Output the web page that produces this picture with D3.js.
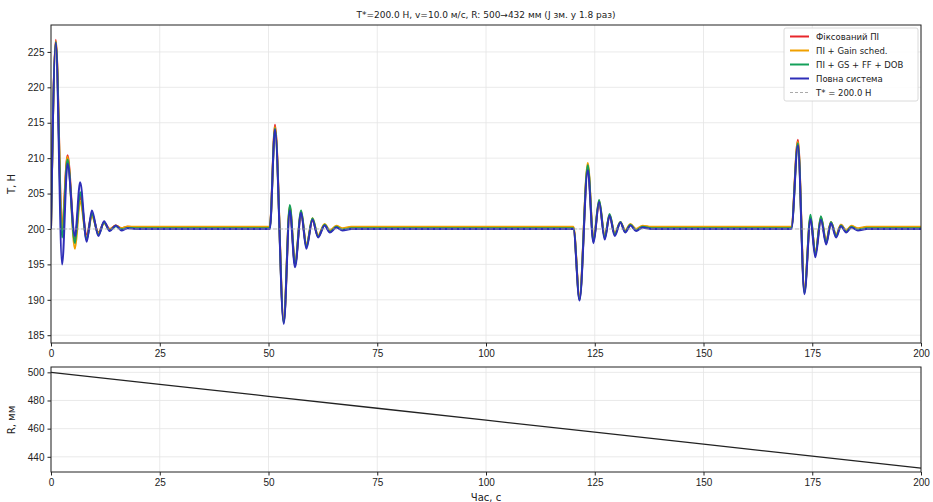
<!DOCTYPE html>
<html>
<head>
<meta charset="utf-8">
<script src="https://cdn.jsdelivr.net/npm/d3@7"></script>
<style>
  html, body { margin: 0; padding: 0; background: #fff; }
  svg { display: block; font-family: "DejaVu Sans", sans-serif; }
  .grid line { stroke: #e4e4e4; stroke-width: 0.8; }
  .axis path, .axis line { stroke: #222; }
  .axis text { fill: #222; font-size: 10px; }
</style>
</head>
<body>
<svg id="chart" width="933" height="502"></svg>
<script>
// Knot times (s) at peaks/troughs of the tension response
const timeKnots = [
  0, 1.1, 2.55, 3.8, 5.5, 6.7, 8.2, 9.4, 10.9, 12.2, 13.5, 14.9, 16.2, 17.6, 19.5,
  30, 45, 50.3,
  51.5, 53.5, 54.9, 56.1, 57.5, 58.7, 60.1, 61.4, 62.9, 64.1, 65.6, 67.0, 69.0,
  90, 110, 120.1,
  121.5, 123.4, 124.7, 126.0, 127.3, 128.4, 129.6, 130.9, 132.0, 133.2, 134.5, 136.0, 138.0,
  150, 165, 170.2,
  171.7, 173.2, 174.6, 175.7, 177.0, 178.2, 179.3, 180.5, 181.6, 182.8, 184.0, 185.5, 187.5,
  200
];

// Tension, N
const fixedPI = [
  200, 226.7, 200.3, 210.4, 198.6, 204.6, 199.2, 202.0, 199.5, 200.9, 200.0, 200.5, 200.1, 200.3, 200.25,
  200.25, 200.25, 200.25,
  214.7, 186.9, 203.0, 195.0, 202.2, 197.6, 201.2, 199.0, 200.6, 199.7, 200.4, 200.0, 200.25,
  200.25, 200.25, 200.25,
  190.2, 208.8, 198.4, 203.6, 198.9, 201.8, 199.3, 200.9, 199.7, 200.6, 199.9, 200.4, 200.25,
  200.25, 200.25, 200.25,
  212.6, 191.2, 201.6, 196.5, 201.5, 198.2, 200.9, 199.1, 200.6, 199.7, 200.4, 200.0, 200.25,
  200.25
];
const gainSched = [
  200, 226.5, 200.0, 210.2, 197.2, 203.9, 198.7, 201.8, 199.4, 200.8, 199.9, 200.5, 200.1, 200.35, 200.3,
  200.3, 200.3, 200.3,
  214.4, 187.2, 203.2, 195.2, 202.5, 197.7, 201.5, 199.1, 200.7, 199.8, 200.45, 200.1, 200.3,
  200.3, 200.3, 200.3,
  190.3, 209.3, 198.6, 204.0, 199.0, 202.0, 199.4, 201.0, 199.8, 200.7, 200.0, 200.45, 200.3,
  200.3, 200.3, 200.3,
  212.3, 191.4, 201.7, 196.6, 201.7, 198.3, 201.0, 199.2, 200.6, 199.8, 200.45, 200.1, 200.3,
  200.3
];
const gsFfDob = [
  200, 226.4, 198.8, 209.8, 198.0, 205.2, 198.5, 202.2, 199.2, 200.9, 199.8, 200.4, 199.95, 200.15, 200.1,
  200.1, 200.1, 200.1,
  214.2, 186.8, 203.4, 194.9, 202.6, 197.4, 201.5, 198.9, 200.6, 199.6, 200.3, 199.9, 200.1,
  200.1, 200.1, 200.1,
  190.0, 209.0, 198.2, 204.1, 198.7, 202.1, 199.2, 201.0, 199.6, 200.6, 199.8, 200.3, 200.1,
  200.1, 200.1, 200.1,
  212.1, 191.0, 202.0, 196.3, 201.8, 198.0, 201.0, 199.0, 200.5, 199.6, 200.3, 199.9, 200.1,
  200.1
];
const fullSystem = [
  200, 226.3, 195.0, 209.2, 199.0, 206.6, 198.2, 202.6, 199.0, 201.1, 199.7, 200.5, 199.8, 200.1, 200.0,
  200.0, 200.0, 200.0,
  214.0, 186.6, 202.6, 194.6, 202.3, 197.2, 201.3, 198.8, 200.5, 199.5, 200.2, 199.8, 200.0,
  200.0, 200.0, 200.0,
  189.9, 208.3, 198.0, 203.8, 198.5, 201.9, 199.0, 200.9, 199.5, 200.5, 199.7, 200.2, 200.0,
  200.0, 200.0, 200.0,
  211.8, 190.8, 201.4, 196.0, 201.3, 197.8, 200.8, 198.8, 200.4, 199.5, 200.2, 199.8, 200.0,
  200.0
];

const seriesNames = ['Фіксований ПІ', 'ПІ + Gain sched.', 'ПІ + GS + FF + DOB', 'Повна система'];
const seriesColors = ['#e8262b', '#f0a000', '#14a05a', '#2e2eb8'];
const tensionRef = 200.0;

// Roll radius, mm
const radiusTimes = [0, 25, 50, 75, 100, 125, 150, 175, 200];
const radiusValues = [500, 491.5, 483, 474.5, 466, 457.5, 449, 440.5, 432];

const xTicks = [0, 25, 50, 75, 100, 125, 150, 175, 200];
const topYTicks = [185, 190, 195, 200, 205, 210, 215, 220, 225];
const botYTicks = [440, 460, 480, 500];

const titleText = 'T*=200.0 Н, v=10.0 м/с, R: 500→432 мм (J зм. у 1.8 раз)';

const svg = d3.select('#chart');
const left = 51, right = 921;

const x = d3.scaleLinear().domain([0, 200]).range([left, right]);
const yTop = d3.scaleLinear().domain([183.9, 228.8]).range([343, 25]);
const yBot = d3.scaleLinear().domain([429.2, 503.8]).range([472, 367]);

function drawPanel(y, yTicks, yTop0, yBot0) {
  const g = svg.append('g');
  // grid
  const grid = g.append('g').attr('class', 'grid');
  grid.selectAll('.gx').data(xTicks).enter().append('line')
    .attr('x1', d => x(d)).attr('x2', d => x(d))
    .attr('y1', yTop0).attr('y2', yBot0);
  grid.selectAll('.gy').data(yTicks).enter().append('line')
    .attr('x1', left).attr('x2', right)
    .attr('y1', d => y(d)).attr('y2', d => y(d));
  return g;
}

function drawAxes(y, yTicks, yTop0, yBot0) {
  const ax = svg.append('g').attr('class', 'axis').attr('transform', 'translate(0,' + yBot0 + ')')
    .call(d3.axisBottom(x).tickValues(xTicks).tickSize(3.5).tickPadding(3).tickFormat(d3.format('d')));
  ax.select('.domain').remove();
  const ay = svg.append('g').attr('class', 'axis').attr('transform', 'translate(' + left + ',0)')
    .call(d3.axisLeft(y).tickValues(yTicks).tickSize(3.5).tickPadding(3).tickFormat(d3.format('d')));
  ay.select('.domain').remove();
  svg.append('rect')
    .attr('x', left).attr('y', yTop0)
    .attr('width', right - left).attr('height', yBot0 - yTop0)
    .attr('fill', 'none').attr('stroke', '#222').attr('stroke-width', 1);
}

// ---- top panel
drawPanel(yTop, topYTicks, 25, 343);

const clipTop = svg.append('clipPath').attr('id', 'clipTop');
clipTop.append('rect').attr('x', left).attr('y', 25).attr('width', right - left).attr('height', 318);

const tensionLine = d3.line()
  .x(d => x(d[0]))
  .y(d => yTop(d[1]))
  .curve(d3.curveMonotoneX);

const allSeries = [fixedPI, gainSched, gsFfDob, fullSystem];
const plotG = svg.append('g').attr('clip-path', 'url(#clipTop)');
allSeries.forEach(function(vals, i) {
  const pts = timeKnots.map((t, k) => [t, vals[k]]);
  plotG.append('path')
    .datum(pts)
    .attr('d', tensionLine)
    .attr('fill', 'none')
    .attr('stroke', seriesColors[i])
    .attr('stroke-width', 2)
    .attr('stroke-linejoin', 'round');
});

plotG.append('line')
  .attr('x1', x(0)).attr('x2', x(200))
  .attr('y1', yTop(tensionRef)).attr('y2', yTop(tensionRef))
  .attr('stroke', '#aaa').attr('stroke-width', 1)
  .attr('stroke-dasharray', '4,2').attr('opacity', 0.7);

drawAxes(yTop, topYTicks, 25, 343);

// legend
const lg = svg.append('g');
lg.append('rect')
  .attr('x', 784).attr('y', 28).attr('width', 134).attr('height', 73)
  .attr('rx', 2).attr('fill', '#fff').attr('fill-opacity', 0.85)
  .attr('stroke', '#d0d0d0').attr('stroke-width', 0.8);
const legendItems = seriesNames.map((n, i) => ({ name: n, color: seriesColors[i], dash: null }))
  .concat([{ name: 'T* = ' + tensionRef.toFixed(1) + ' Н', color: '#aaa', dash: '3,2' }]);
legendItems.forEach(function(d, i) {
  const yy = 36.5 + i * 14;
  lg.append('line')
    .attr('x1', 790).attr('x2', 809).attr('y1', yy).attr('y2', yy)
    .attr('stroke', d.color).attr('stroke-width', d.dash ? 1 : 2)
    .attr('stroke-dasharray', d.dash);
  lg.append('text')
    .attr('x', 816).attr('y', yy + 3)
    .attr('font-size', '8.5px').attr('fill', '#222')
    .text(d.name);
});

// title and y label
svg.append('text')
  .attr('x', 486).attr('y', 18)
  .attr('text-anchor', 'middle').attr('font-size', '9px').attr('fill', '#222')
  .text(titleText);
svg.append('text')
  .attr('transform', 'translate(15,184) rotate(-90)')
  .attr('text-anchor', 'middle').attr('font-size', '10px').attr('fill', '#222')
  .text('T, Н');

// ---- bottom panel
drawPanel(yBot, botYTicks, 367, 472);
svg.append('path')
  .datum(radiusTimes.map((t, k) => [t, radiusValues[k]]))
  .attr('d', d3.line().x(d => x(d[0])).y(d => yBot(d[1])))
  .attr('fill', 'none').attr('stroke', '#222').attr('stroke-width', 1.3);
drawAxes(yBot, botYTicks, 367, 472);

svg.append('text')
  .attr('transform', 'translate(15,420) rotate(-90)')
  .attr('text-anchor', 'middle').attr('font-size', '10px').attr('fill', '#222')
  .text('R, мм');
svg.append('text')
  .attr('x', 486).attr('y', 501)
  .attr('text-anchor', 'middle').attr('font-size', '10px').attr('fill', '#222')
  .text('Час, с');
</script>
</body>
</html>
